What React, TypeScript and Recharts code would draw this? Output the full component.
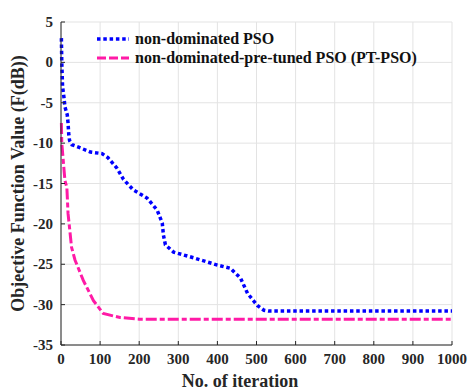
import React from 'react';
import {
  LineChart,
  Line,
  XAxis,
  YAxis,
  CartesianGrid,
} from 'recharts';

// non-dominated PSO
const psoIter = [1, 2, 4, 8, 10, 16, 18, 20, 22, 28, 50, 75, 105, 120, 143, 160, 185, 220, 246, 259, 262, 267, 288, 339, 400, 433, 459, 477, 502, 519, 530, 1000];
const psoValue = [3, 0, -3, -4.5, -5.5, -6.5, -7.5, -9, -9.7, -10.2, -10.6, -11.1, -11.3, -11.8, -13.1, -14.5, -15.8, -16.8, -18.3, -19.9, -21.4, -22.6, -23.5, -24.2, -25.1, -25.5, -26.7, -28.6, -30.1, -30.7, -30.8, -30.8];

// non-dominated-pre-tuned PSO (PT-PSO)
const ptIter = [1, 2, 10, 15, 18, 27, 36, 57, 83, 108, 151, 200, 1000];
const ptValue = [-7.5, -10, -14.6, -15.5, -18.7, -22.9, -24.5, -27, -29.5, -31.1, -31.6, -31.8, -31.8];

const xTicks = [0, 100, 200, 300, 400, 500, 600, 700, 800, 900, 1000];
const yTicks = [5, 0, -5, -10, -15, -20, -25, -30, -35];

const psoData = psoIter.map((it, i) => ({ iter: it, value: psoValue[i] }));
const ptData = ptIter.map((it, i) => ({ iter: it, value: ptValue[i] }));

const BLUE = '#0000ff';
const PINK = '#ff1aa6';
const FONT = '"Liberation Serif", "Times New Roman", serif';
const INK = '#262626';

// tick positions arrive shifted by the inward tick lines, so offset them back
const XTick = ({ x, y, payload }: any) => (
  <text x={x} y={y + 21} textAnchor="middle" fontSize={15} fontWeight="bold" fill={INK}>
    {payload.value}
  </text>
);

const YTick = ({ x, y, payload }: any) => (
  <text x={x - 10} y={y + 5} textAnchor="end" fontSize={15} fontWeight="bold" fill={INK}>
    {payload.value}
  </text>
);

const XLabel = () => (
  <text x={240} y={387} textAnchor="middle" fontSize={18} fontWeight="bold" fill={INK}>
    No. of iteration
  </text>
);

const YLabel = ({ viewBox }: any) => {
  const cy = viewBox.y + viewBox.height / 2;
  return (
    <text
      x={18}
      y={cy}
      transform={`rotate(-90 18 ${cy})`}
      textAnchor="middle"
      dominantBaseline="central"
      fontSize={18}
      fontWeight="bold"
      fill={INK}
    >
      Objective Function Value (F(dB))
    </text>
  );
};

const LegendBox = () => (
  <svg
    width={340}
    height={40}
    style={{ position: 'absolute', left: 95, top: 30 }}
  >
    <line x1={2} y1={9} x2={34} y2={9} stroke={BLUE} strokeWidth={3.5} strokeDasharray="3.5 2.8" />
    <text x={40} y={14} fontSize={16} fontWeight="bold" fill="#111">non-dominated PSO</text>
    <line x1={2} y1={28} x2={34} y2={28} stroke={PINK} strokeWidth={3} strokeDasharray="9 3" />
    <text x={40} y={33} fontSize={16} fontWeight="bold" fill="#111">non-dominated-pre-tuned PSO (PT-PSO)</text>
  </svg>
);

export default function App() {
  return (
    <div style={{ position: 'absolute', left: 0, top: 0, width: 471, height: 392, background: '#fff' }}>
      <style>{`svg text { font-family: ${FONT} !important; }`}</style>
      <LineChart
        width={471}
        height={392}
        margin={{ top: 22, right: 19, bottom: 0, left: 0 }}
      >
        <CartesianGrid stroke="#e3e3e3" />
        <XAxis
          type="number"
          dataKey="iter"
          domain={[0, 1000]}
          ticks={xTicks}
          interval={0}
          height={47}
          stroke={INK}
          tickSize={-4}
          tick={<XTick />}
          allowDuplicatedCategory={false}
          label={<XLabel />}
        />
        <XAxis
          xAxisId="top"
          orientation="top"
          type="number"
          domain={[0, 1000]}
          ticks={xTicks}
          height={0}
          stroke={INK}
          tickSize={-4}
          tick={false}
        />
        <YAxis
          type="number"
          domain={[-35, 5]}
          ticks={yTicks}
          interval={0}
          width={61}
          stroke={INK}
          tickSize={-4}
          tick={<YTick />}
          label={<YLabel />}
        />
        <YAxis
          yAxisId="right"
          orientation="right"
          type="number"
          domain={[-35, 5]}
          ticks={yTicks}
          width={0}
          stroke={INK}
          tickSize={-4}
          tick={false}
        />
        <Line
          data={psoData}
          dataKey="value"
          type="linear"
          stroke={BLUE}
          strokeWidth={3.5}
          strokeDasharray="3.5 2.8"
          dot={false}
          isAnimationActive={false}
        />
        <Line
          data={ptData}
          dataKey="value"
          type="linear"
          stroke={PINK}
          strokeWidth={3}
          strokeDasharray="11 3 5 3"
          dot={false}
          isAnimationActive={false}
        />
      </LineChart>
      <LegendBox />
    </div>
  );
}
